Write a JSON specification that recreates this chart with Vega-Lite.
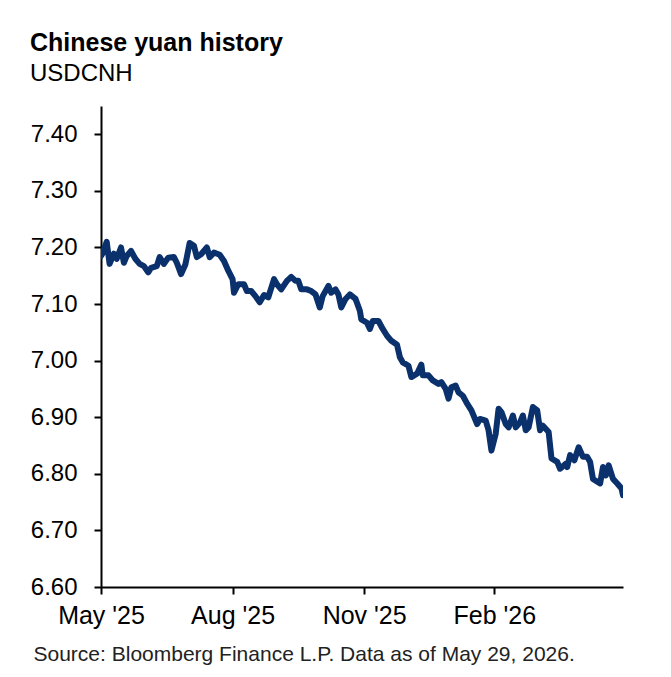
{
  "$schema": "https://vega.github.io/schema/vega-lite/v6.json",
  "autosize": {"type": "none"},
  "width": 522,
  "height": 481,
  "padding": {"left": 101, "top": 106, "right": 48, "bottom": 90},
  "background": "white",
  "config": {
    "view": {"stroke": null},
    "font": "Liberation Sans"
  },
  "title": {
    "text": "Chinese yuan history",
    "subtitle": "USDCNH",
    "anchor": "start",
    "frame": "group",
    "dx": -71,
    "offset": 20,
    "font": "Liberation Sans",
    "fontSize": 25,
    "fontWeight": "bold",
    "color": "#000000",
    "subtitleFont": "Liberation Sans",
    "subtitleFontSize": 24,
    "subtitleColor": "#000000",
    "subtitlePadding": 6
  },
  "data": {
    "values": [
      {"date": "2025-05-29", "value": 7.185},
      {"date": "2025-05-30", "value": 7.189},
      {"date": "2025-06-02", "value": 7.210},
      {"date": "2025-06-04", "value": 7.171},
      {"date": "2025-06-07", "value": 7.189},
      {"date": "2025-06-09", "value": 7.180},
      {"date": "2025-06-12", "value": 7.200},
      {"date": "2025-06-14", "value": 7.173},
      {"date": "2025-06-16", "value": 7.185},
      {"date": "2025-06-19", "value": 7.194},
      {"date": "2025-06-22", "value": 7.180},
      {"date": "2025-06-25", "value": 7.171},
      {"date": "2025-06-28", "value": 7.167},
      {"date": "2025-07-01", "value": 7.156},
      {"date": "2025-07-03", "value": 7.164},
      {"date": "2025-07-07", "value": 7.167},
      {"date": "2025-07-09", "value": 7.183},
      {"date": "2025-07-12", "value": 7.171},
      {"date": "2025-07-15", "value": 7.182},
      {"date": "2025-07-19", "value": 7.183},
      {"date": "2025-07-21", "value": 7.173},
      {"date": "2025-07-24", "value": 7.153},
      {"date": "2025-07-27", "value": 7.170},
      {"date": "2025-07-30", "value": 7.208},
      {"date": "2025-08-02", "value": 7.203},
      {"date": "2025-08-04", "value": 7.183},
      {"date": "2025-08-07", "value": 7.188},
      {"date": "2025-08-11", "value": 7.200},
      {"date": "2025-08-13", "value": 7.183},
      {"date": "2025-08-16", "value": 7.191},
      {"date": "2025-08-20", "value": 7.187},
      {"date": "2025-08-23", "value": 7.176},
      {"date": "2025-08-26", "value": 7.159},
      {"date": "2025-08-29", "value": 7.144},
      {"date": "2025-08-30", "value": 7.120},
      {"date": "2025-09-02", "value": 7.135},
      {"date": "2025-09-06", "value": 7.135},
      {"date": "2025-09-08", "value": 7.123},
      {"date": "2025-09-11", "value": 7.123},
      {"date": "2025-09-14", "value": 7.114},
      {"date": "2025-09-17", "value": 7.103},
      {"date": "2025-09-20", "value": 7.116},
      {"date": "2025-09-23", "value": 7.112},
      {"date": "2025-09-27", "value": 7.144},
      {"date": "2025-09-29", "value": 7.135},
      {"date": "2025-10-02", "value": 7.126},
      {"date": "2025-10-06", "value": 7.141},
      {"date": "2025-10-09", "value": 7.148},
      {"date": "2025-10-12", "value": 7.141},
      {"date": "2025-10-14", "value": 7.141},
      {"date": "2025-10-16", "value": 7.126},
      {"date": "2025-10-20", "value": 7.126},
      {"date": "2025-10-23", "value": 7.123},
      {"date": "2025-10-26", "value": 7.117},
      {"date": "2025-10-29", "value": 7.094},
      {"date": "2025-10-31", "value": 7.114},
      {"date": "2025-11-04", "value": 7.132},
      {"date": "2025-11-06", "value": 7.120},
      {"date": "2025-11-09", "value": 7.126},
      {"date": "2025-11-11", "value": 7.117},
      {"date": "2025-11-13", "value": 7.094},
      {"date": "2025-11-16", "value": 7.109},
      {"date": "2025-11-19", "value": 7.117},
      {"date": "2025-11-23", "value": 7.109},
      {"date": "2025-11-26", "value": 7.088},
      {"date": "2025-11-27", "value": 7.073},
      {"date": "2025-12-01", "value": 7.067},
      {"date": "2025-12-03", "value": 7.056},
      {"date": "2025-12-05", "value": 7.070},
      {"date": "2025-12-09", "value": 7.070},
      {"date": "2025-12-12", "value": 7.056},
      {"date": "2025-12-15", "value": 7.044},
      {"date": "2025-12-18", "value": 7.035},
      {"date": "2025-12-22", "value": 7.028},
      {"date": "2025-12-24", "value": 7.006},
      {"date": "2025-12-26", "value": 6.997},
      {"date": "2025-12-30", "value": 6.991},
      {"date": "2026-01-01", "value": 6.971},
      {"date": "2026-01-05", "value": 6.977},
      {"date": "2026-01-08", "value": 6.993},
      {"date": "2026-01-09", "value": 6.974},
      {"date": "2026-01-13", "value": 6.974},
      {"date": "2026-01-16", "value": 6.965},
      {"date": "2026-01-20", "value": 6.959},
      {"date": "2026-01-22", "value": 6.962},
      {"date": "2026-01-25", "value": 6.950},
      {"date": "2026-01-27", "value": 6.933},
      {"date": "2026-01-29", "value": 6.953},
      {"date": "2026-02-01", "value": 6.956},
      {"date": "2026-02-03", "value": 6.944},
      {"date": "2026-02-06", "value": 6.938},
      {"date": "2026-02-09", "value": 6.924},
      {"date": "2026-02-12", "value": 6.912},
      {"date": "2026-02-16", "value": 6.888},
      {"date": "2026-02-18", "value": 6.897},
      {"date": "2026-02-22", "value": 6.894},
      {"date": "2026-02-24", "value": 6.877},
      {"date": "2026-02-26", "value": 6.841},
      {"date": "2026-03-01", "value": 6.871},
      {"date": "2026-03-03", "value": 6.915},
      {"date": "2026-03-05", "value": 6.909},
      {"date": "2026-03-08", "value": 6.888},
      {"date": "2026-03-10", "value": 6.882},
      {"date": "2026-03-13", "value": 6.903},
      {"date": "2026-03-15", "value": 6.882},
      {"date": "2026-03-18", "value": 6.891},
      {"date": "2026-03-20", "value": 6.903},
      {"date": "2026-03-22", "value": 6.877},
      {"date": "2026-03-24", "value": 6.882},
      {"date": "2026-03-27", "value": 6.918},
      {"date": "2026-03-30", "value": 6.912},
      {"date": "2026-04-01", "value": 6.877},
      {"date": "2026-04-03", "value": 6.885},
      {"date": "2026-04-07", "value": 6.874},
      {"date": "2026-04-09", "value": 6.827},
      {"date": "2026-04-13", "value": 6.821},
      {"date": "2026-04-15", "value": 6.809},
      {"date": "2026-04-19", "value": 6.818},
      {"date": "2026-04-20", "value": 6.812},
      {"date": "2026-04-22", "value": 6.833},
      {"date": "2026-04-25", "value": 6.824},
      {"date": "2026-04-28", "value": 6.847},
      {"date": "2026-05-01", "value": 6.830},
      {"date": "2026-05-04", "value": 6.830},
      {"date": "2026-05-06", "value": 6.821},
      {"date": "2026-05-08", "value": 6.791},
      {"date": "2026-05-13", "value": 6.783},
      {"date": "2026-05-15", "value": 6.812},
      {"date": "2026-05-17", "value": 6.797},
      {"date": "2026-05-19", "value": 6.815},
      {"date": "2026-05-22", "value": 6.791},
      {"date": "2026-05-25", "value": 6.783},
      {"date": "2026-05-28", "value": 6.774},
      {"date": "2026-05-29", "value": 6.762}
    ]
  },
  "mark": {"type": "line", "color": "#0b316c", "strokeWidth": 6, "strokeJoin": "round", "strokeCap": "round", "clip": true},
  "encoding": {
    "x": {
      "field": "date",
      "type": "temporal",
      "scale": {
        "type": "utc",
        "domain": [
          {"year": 2025, "month": 5, "date": 29, "utc": true},
          {"year": 2026, "month": 5, "date": 29, "utc": true}
        ]
      },
      "axis": {
        "values": [
          {"year": 2025, "month": 5, "date": 29, "utc": true},
          {"year": 2025, "month": 8, "date": 29, "utc": true},
          {"year": 2025, "month": 11, "date": 29, "utc": true},
          {"year": 2026, "month": 2, "date": 28, "utc": true}
        ],
        "format": "%b '%y",
        "labelFont": "Liberation Sans",
        "labelFontSize": 25,
        "labelColor": "#000000",
        "labelPadding": 9,
        "labelFlush": false,
        "labelOverlap": false,
        "grid": false,
        "domainColor": "#000000",
        "domainWidth": 2,
        "tickColor": "#000000",
        "tickWidth": 2,
        "tickSize": 7,
        "title": "Source: Bloomberg  Finance L.P. Data as of May 29, 2026.",
        "titleFont": "Liberation Sans",
        "titleFontSize": 21,
        "titleFontWeight": "normal",
        "titleColor": "#222222",
        "titleAnchor": "start",
        "titleAlign": "left",
        "titleBaseline": "alphabetic",
        "titleX": -68,
        "titleY": 73
      }
    },
    "y": {
      "field": "value",
      "type": "quantitative",
      "scale": {"domain": [6.6, 7.45], "zero": false, "nice": false},
      "axis": {
        "values": [6.6, 6.7, 6.8, 6.9, 7.0, 7.1, 7.2, 7.3, 7.4],
        "format": ".2f",
        "labelFont": "Liberation Sans",
        "labelFontSize": 24,
        "labelColor": "#000000",
        "labelPadding": 17,
        "grid": false,
        "domainColor": "#000000",
        "domainWidth": 2,
        "tickColor": "#000000",
        "tickWidth": 2,
        "tickSize": 7,
        "title": null
      }
    }
  }
}
